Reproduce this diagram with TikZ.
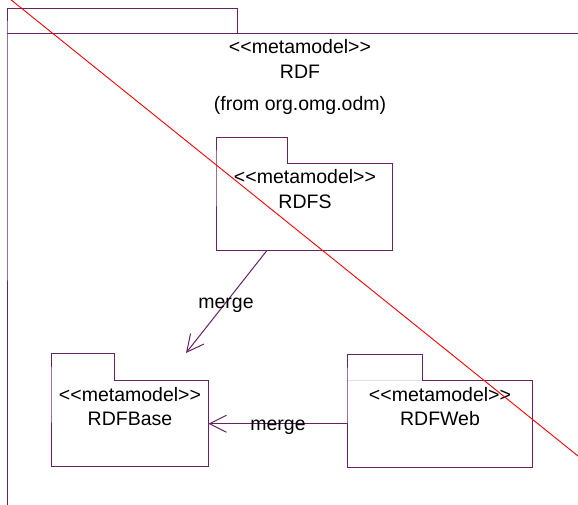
\documentclass[tikz,border=0pt]{standalone}
\usepackage{fontspec}
\setmainfont[Ligatures=NoCommon]{Liberation Sans}
\usetikzlibrary{arrows.meta}
\definecolor{pkgline}{RGB}{100,36,100}
\newcommand{\stmeta}{<{}<metamodel>{}>}
\begin{document}
\begin{tikzpicture}[x=1pt,y=-1pt,
  pkg/.style={draw=pkgline,line width=1pt},
  body/.style={rectangle,inner sep=0pt,anchor=north west},
  lbl/.style={font=\fontsize{19.5}{23}\selectfont,inner sep=0pt,anchor=base},
  conn/.style={draw=pkgline,line width=1pt,-{Straight Barb[length=17pt,width=17pt]}}]
\useasboundingbox (0,0) rectangle (578,504);
\clip (0,0) rectangle (578,504);
% outer package RDF
\node[body,minimum width=600pt,minimum height=500pt] (rdf) at (7,33) {};
\draw[pkg] (rdf.south west) -- (rdf.north west) -- ++(0,-25) -- ++(230,0) -- ++(0,25);
\draw[pkg] (rdf.north west) -- (rdf.north east);
\node[lbl] (rdfst) at (300,53) {\stmeta};
\node[lbl] (rdfname) at (300,78) {RDF};
\node[lbl] (rdffrom) at (300,110) {(from org.omg.odm)};
% RDFS
\node[body,minimum width=176pt,minimum height=87pt] (rdfs) at (216,163) {};
\draw[pkg] (rdfs.south west) -- (rdfs.north west) -- ++(0,-26) -- ++(71,0) -- ++(0,26) -- (rdfs.north east) -- (rdfs.south east) -- cycle;
\node[lbl] (rdfsst) at (305,183) {\stmeta};
\node[lbl] (rdfsname) at (305,208) {RDFS};
% RDFBase
\node[body,minimum width=157pt,minimum height=86pt] (base) at (51,380) {};
\draw[pkg] (base.south west) -- (base.north west) -- ++(0,-27) -- ++(63,0) -- ++(0,27) -- (base.north east) -- (base.south east) -- cycle;
\node[lbl] (basest) at (130,401) {\stmeta};
\node[lbl] (basename) at (130,425) {RDFBase};
% RDFWeb
\node[body,minimum width=185pt,minimum height=87pt] (web) at (347,380) {};
\draw[gray!25,line width=0.8pt] (web.north west) -- ++(75,0);
\draw[pkg] (web.south west) -- (web.north west) -- ++(0,-26) -- ++(75,0) -- ++(0,26) -- (web.north east) -- (web.south east) -- cycle;
\node[lbl] (webst) at (440,401) {\stmeta};
\node[lbl] (webname) at (440,425) {RDFWeb};
% merge dependencies
\coordinate (mtip) at (186,353);
\draw[conn] ([xshift=51pt]rdfs.south west) -- (mtip);
\node[lbl] (merge1) at (226,308) {merge};
\draw[conn] (web.west) -- (base.east |- web.west);
\node[lbl] (merge2) at (278,430) {merge};
% red cross-out line
\draw[red,line width=0.9pt] (10,-1) -- (580,457.6);
\end{tikzpicture}
\end{document}
